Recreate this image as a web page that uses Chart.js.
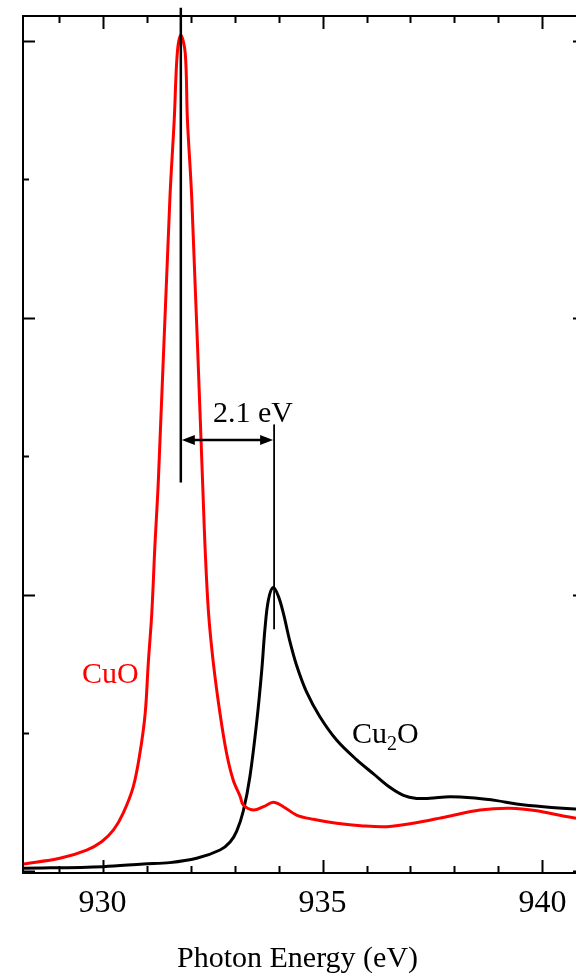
<!DOCTYPE html>
<html>
<head>
    <title>Cu L3 edge XAS</title>
    <script src="https://cdn.jsdelivr.net/npm/chart.js"></script>
    <style>
        html, body { margin: 0; padding: 0; background: #fff; overflow: hidden; width: 576px; height: 973px; }
        canvas { display: block; }
    </style>
</head>
<body>
    <canvas id="xasChart" width="590" height="973"></canvas>

    <script>
        // CuO spectrum (photon energy in eV, intensity in arb. units)
        var cuoEnergy = [928.20, 929.03, 929.64, 929.98, 930.25, 930.47, 930.70, 930.85, 930.97, 931.04,
                         931.12, 931.19, 931.27, 931.53, 931.63, 931.70, 931.78, 931.88, 931.93, 932.03,
                         932.29, 932.33, 932.41, 932.52, 932.67, 932.82, 932.97, 933.13, 933.20, 933.43,
                         933.66, 933.88, 934.11, 934.41, 934.79, 935.32, 935.93, 936.46, 937.06, 937.82,
                         938.58, 939.26, 939.87, 940.47, 940.97];
        var cuoIntensity = [0.054, 0.095, 0.155, 0.215, 0.300, 0.421, 0.613, 0.854, 1.143, 1.504,
                            1.866, 2.347, 2.829, 4.852, 5.430, 5.914, 6.044, 5.914, 5.430, 4.852,
                            2.684, 2.347, 1.866, 1.504, 1.143, 0.854, 0.661, 0.541, 0.480, 0.444,
                            0.468, 0.500, 0.468, 0.408, 0.377, 0.348, 0.329, 0.324, 0.348, 0.396,
                            0.444, 0.457, 0.439, 0.401, 0.375];

        // Cu2O spectrum
        var cu2oEnergy = [928.20, 930.02, 930.93, 931.53, 932.14, 932.67, 932.90, 933.05, 933.20, 933.35,
                          933.51, 933.62, 933.69, 933.77, 933.88, 934.00, 934.11, 934.26, 934.41, 934.64,
                          934.94, 935.32, 935.78, 936.16, 936.53, 936.84, 937.14, 937.44, 937.90, 938.51,
                          938.96, 939.41, 940.02, 940.97];
        var cu2oIntensity = [0.023, 0.035, 0.054, 0.064, 0.095, 0.155, 0.213, 0.292, 0.437, 0.685,
                             1.095, 1.456, 1.745, 1.962, 2.053, 1.986, 1.866, 1.660, 1.490, 1.295,
                             1.118, 0.950, 0.806, 0.705, 0.608, 0.550, 0.528, 0.529, 0.540, 0.529,
                             0.512, 0.488, 0.468, 0.447];

        // axis ranges and ticks
        var xRange = [928.193, 940.966];
        var yRange = [-0.011, 6.181];
        var xTicks = [929, 930, 931, 932, 933, 934, 935, 936, 937, 938, 939, 940];
        var xMajorTicks = [930, 935, 940];
        var yTicks = [0, 1, 2, 3, 4, 5, 6];
        var yMajorTicks = [0, 2, 4, 6];

        // peak markers
        var cuoPeak = 931.78;
        var cu2oPeak = 933.90;
        var shiftLabel = "2.1 eV";

        function toPoints(xs, ys) {
            return xs.map(function (x, i) { return { x: x, y: ys[i] }; });
        }

        var serif = "'Liberation Serif', 'DejaVu Serif', serif";

        // draws the frame, inward ticks, labels and the peak-shift annotation
        var framePlugin = {
            id: "frame",
            afterDraw: function (chart) {
                var ctx = chart.ctx;
                var a = chart.chartArea;
                var xs = chart.scales.x;
                var ys = chart.scales.y;
                ctx.save();
                ctx.strokeStyle = "#000";
                ctx.fillStyle = "#000";

                // box
                ctx.lineWidth = 2;
                ctx.beginPath();
                ctx.moveTo(a.left, a.top);
                ctx.lineTo(a.right, a.top);
                ctx.moveTo(a.left, a.top - 1);
                ctx.lineTo(a.left, a.bottom + 1);
                ctx.moveTo(a.left, a.bottom);
                ctx.lineTo(a.right, a.bottom);
                ctx.moveTo(a.right, a.top);
                ctx.lineTo(a.right, a.bottom);
                ctx.stroke();

                // x ticks, top and bottom
                xTicks.forEach(function (v) {
                    var px = Math.round(xs.getPixelForValue(v)) + 0.5;
                    var len = xMajorTicks.indexOf(v) >= 0 ? 13 : 7;
                    ctx.beginPath();
                    ctx.moveTo(px, a.bottom);
                    ctx.lineTo(px, a.bottom - len);
                    ctx.moveTo(px, a.top);
                    ctx.lineTo(px, a.top + len);
                    ctx.stroke();
                });

                // y ticks, left and right
                yTicks.forEach(function (v) {
                    var py = Math.round(ys.getPixelForValue(v)) + 0.5;
                    var len = yMajorTicks.indexOf(v) >= 0 ? 12 : 6;
                    ctx.beginPath();
                    ctx.moveTo(a.left, py);
                    ctx.lineTo(a.left + len, py);
                    ctx.moveTo(a.right, py);
                    ctx.lineTo(a.right - len, py);
                    ctx.stroke();
                });

                // x tick labels
                ctx.font = "32px " + serif;
                ctx.textAlign = "center";
                ctx.textBaseline = "alphabetic";
                xMajorTicks.forEach(function (v) {
                    ctx.fillText(String(v), xs.getPixelForValue(v), 912);
                });

                // x axis title
                ctx.font = "30px " + serif;
                ctx.textAlign = "left";
                ctx.fillText("Photon Energy (eV)", 177, 967);

                // peak marker lines
                var x1 = xs.getPixelForValue(cuoPeak);
                var x2 = xs.getPixelForValue(cu2oPeak);
                ctx.lineWidth = 2.5;
                ctx.beginPath();
                ctx.moveTo(x1, ys.getPixelForValue(6.24));
                ctx.lineTo(x1, ys.getPixelForValue(2.81));
                ctx.stroke();
                ctx.lineWidth = 1.8;
                ctx.beginPath();
                ctx.moveTo(x2, ys.getPixelForValue(3.23));
                ctx.lineTo(x2, ys.getPixelForValue(1.75));
                ctx.stroke();

                // double arrow
                var ay = ys.getPixelForValue(3.118);
                var head = 13, half = 5;
                ctx.lineWidth = 2.5;
                ctx.beginPath();
                ctx.moveTo(x1 + head - 1, ay);
                ctx.lineTo(x2 - head + 1, ay);
                ctx.stroke();
                ctx.beginPath();
                ctx.moveTo(x1 + 1, ay);
                ctx.lineTo(x1 + 1 + head, ay - half);
                ctx.lineTo(x1 + 1 + head, ay + half);
                ctx.closePath();
                ctx.fill();
                ctx.beginPath();
                ctx.moveTo(x2 - 1, ay);
                ctx.lineTo(x2 - 1 - head, ay - half);
                ctx.lineTo(x2 - 1 - head, ay + half);
                ctx.closePath();
                ctx.fill();

                ctx.font = "30px " + serif;
                ctx.textAlign = "left";
                ctx.fillText(shiftLabel, 213, 422);

                // curve labels
                ctx.fillStyle = "#ff0000";
                ctx.fillText("CuO", 82, 683);
                ctx.fillStyle = "#000";
                ctx.fillText("Cu", 352, 743);
                var cuW = ctx.measureText("Cu").width;
                ctx.font = "20px " + serif;
                ctx.fillText("2", 352 + cuW, 750);
                var subW = ctx.measureText("2").width;
                ctx.font = "30px " + serif;
                ctx.fillText("O", 352 + cuW + subW, 743);

                ctx.restore();
            }
        };

        var chart = new Chart(document.getElementById("xasChart"), {
            type: "scatter",
            data: {
                datasets: [
                    {
                        label: "CuO",
                        data: toPoints(cuoEnergy, cuoIntensity),
                        borderColor: "#ff0000",
                        borderWidth: 3,
                        showLine: true,
                        pointRadius: 0,
                        tension: 0.35
                    },
                    {
                        label: "Cu2O",
                        data: toPoints(cu2oEnergy, cu2oIntensity),
                        borderColor: "#000000",
                        borderWidth: 3,
                        showLine: true,
                        pointRadius: 0,
                        tension: 0.35
                    }
                ]
            },
            options: {
                responsive: false,
                animation: false,
                layout: { padding: { left: 23, top: 16, right: 5, bottom: 100 } },
                plugins: {
                    legend: { display: false },
                    tooltip: { enabled: false }
                },
                scales: {
                    x: { type: "linear", min: xRange[0], max: xRange[1], display: false },
                    y: { type: "linear", min: yRange[0], max: yRange[1], display: false }
                }
            },
            plugins: [framePlugin]
        });
    </script>
</body>
</html>
